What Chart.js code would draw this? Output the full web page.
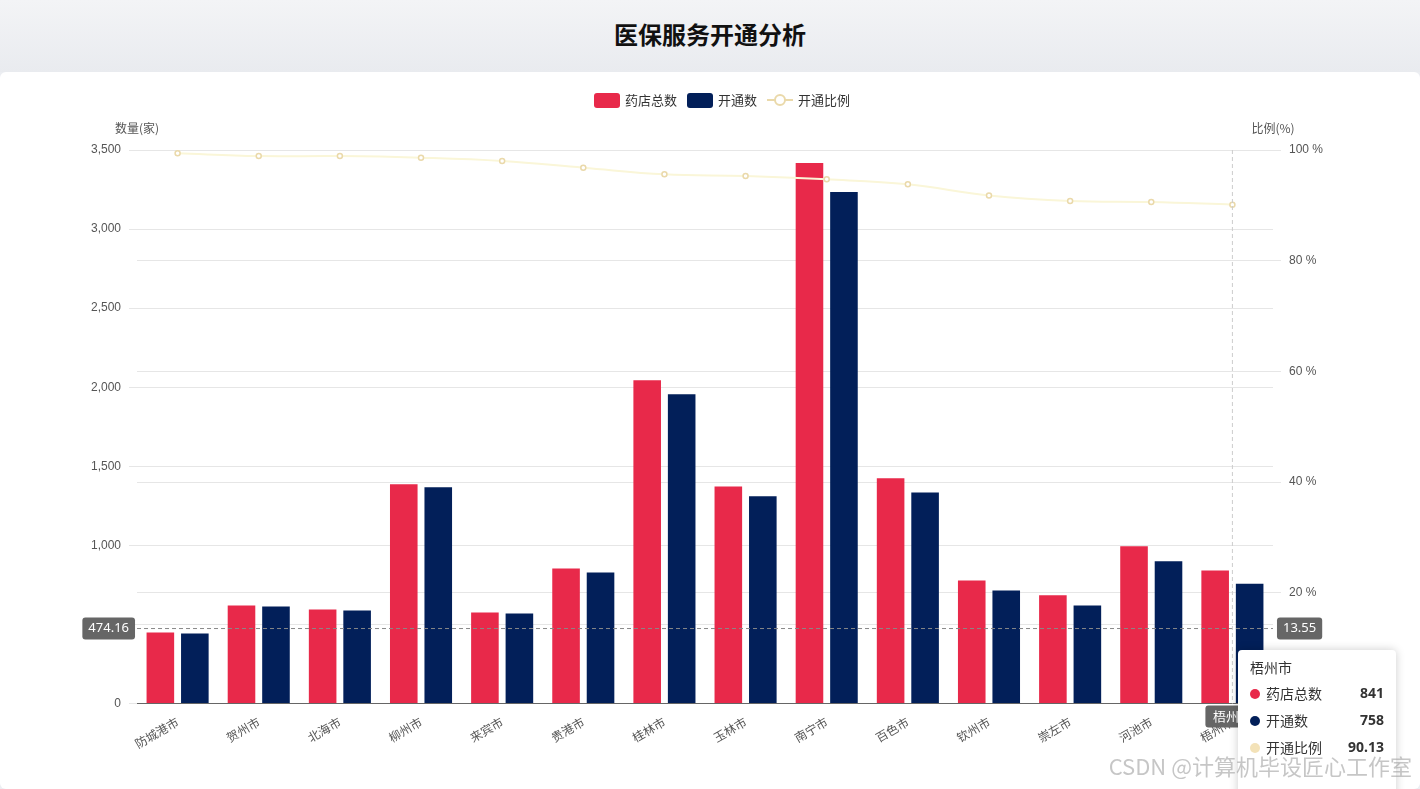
<!DOCTYPE html>
<html><head><meta charset="utf-8">
<script src="https://cdn.jsdelivr.net/npm/chart.js@4"></script>
<style>
body{margin:0;background:#eceef2;font-family:"Noto Sans CJK SC","Noto Sans",sans-serif;}
#hdr{height:72px;line-height:68px;text-align:center;font-size:24px;font-weight:bold;color:#111;background:linear-gradient(#f3f4f6,#e9ebef);}
#card{position:absolute;left:0;top:72px;width:1420px;height:717px;background:#fff;border-radius:6px;}
#wm{position:absolute;right:8px;bottom:8px;font-size:22px;color:rgba(160,160,160,0.6);}
</style></head><body>
<div id="hdr">医保服务开通分析</div>
<div id="card"><canvas id="c" width="1420" height="717"></canvas></div>
<div id="wm">CSDN @计算机毕设匠心工作室</div>
<script>
const categories=["防城港市","贺州市","北海市","柳州市","来宾市","贵港市","桂林市","玉林市","南宁市","百色市","钦州市","崇左市","河池市","梧州市"];
const totalStores=[449,620,595,1386,576,854,2044,1373,3418,1424,778,684,994,841];
const openStores=[443,614,589,1367,570,829,1956,1310,3234,1335,715,620,899,758];
const openRatio=[99.4,98.9,98.9,98.6,98.0,96.8,95.6,95.3,94.7,93.8,91.8,90.8,90.6,90.13];
const leftTicks=[0,500,1000,1500,2000,2500,3000,3500];
const rightTicks=[0,20,40,60,80,100];
const hoverIdx=13;

const overlay={id:'overlay',afterDraw(ch){
 const c=ch.ctx,a=ch.chartArea,x=ch.scales.x,y=ch.scales.y;
 c.save();
 c.font='13px "Noto Sans CJK SC"';c.textBaseline='middle';c.textAlign='left';
 let lx=594,ly=28;
 [['药店总数','#e8294a'],['开通数','#021f59']].forEach(r=>{c.fillStyle=r[1];c.beginPath();c.roundRect(lx,ly-7,26,15,3);c.fill();
  c.fillStyle='#333';c.fillText(r[0],lx+31,ly);lx+=31+c.measureText(r[0]).width+10;});
 c.strokeStyle='#ead9aa';c.lineWidth=2;c.beginPath();c.moveTo(lx,ly);c.lineTo(lx+26,ly);c.stroke();
 c.fillStyle='#fff';c.beginPath();c.arc(lx+13,ly,5,0,7);c.fill();c.stroke();
 c.fillStyle='#333';c.fillText('开通比例',lx+31,ly);
 c.font='12px "Noto Sans CJK SC"';c.fillStyle='#555';c.textAlign='center';
 c.fillText('数量(家)',137,56);c.fillText('比例(%)',1273,56);
 const px=x.getPixelForValue(hoverIdx),py=y.getPixelForValue(474.16);
 c.setLineDash([4,3]);c.strokeStyle='#888';c.lineWidth=1;
 c.beginPath();c.moveTo(a.left,py);c.lineTo(a.right,py);c.stroke();
 c.strokeStyle='#ccc';c.beginPath();c.moveTo(px,a.top);c.lineTo(px,a.bottom);c.stroke();c.setLineDash([]);
 function lab(t,cx,cy,al){c.font='13px "Noto Sans"';const w=c.measureText(t).width+12;const l=al==='r'?cx-w:cx;
  c.fillStyle='#666';c.beginPath();c.roundRect(l,cy-11,w,22,3);c.fill();c.fillStyle='#fff';c.textBaseline='middle';c.textAlign='left';c.fillText(t,l+6,cy);}
 lab('474.16',a.left-2,py,'r');lab('13.55',a.right+4,py,'l');
 c.font='13px "Noto Sans CJK SC"';c.fillStyle='#666';c.beginPath();c.roundRect(px-27,a.bottom+2,54,22,3);c.fill();
 c.fillStyle='#fff';c.textAlign='center';c.fillText('梧州市',px,a.bottom+13);
 const tx=1238,ty=578,tw=158,th=150;
 c.shadowColor='rgba(0,0,0,0.2)';c.shadowBlur=10;c.fillStyle='#fff';c.beginPath();c.roundRect(tx,ty,tw,th,4);c.fill();c.shadowBlur=0;
 c.textAlign='left';c.fillStyle='#333';c.font='14px "Noto Sans CJK SC"';c.fillText('梧州市',tx+12,ty+18);
 const rows=[['药店总数','841','#e8294a'],['开通数','758','#021f59'],['开通比例','90.13','#f3e2b8']];
 rows.forEach((r,i)=>{const yy=ty+44+i*27;c.fillStyle=r[2];c.beginPath();c.arc(tx+17,yy,5,0,7);c.fill();
  c.fillStyle='#333';c.font='14px "Noto Sans CJK SC"';c.textAlign='left';c.fillText(r[0],tx+28,yy);
  c.font='bold 14px "Noto Sans"';c.textAlign='right';c.fillText(r[1],tx+tw-12,yy);});
 c.restore();}};

new Chart(document.getElementById('c'),{
 data:{labels:categories,datasets:[
  {type:'line',label:'开通比例',data:openRatio,yAxisID:'y1',borderColor:'#faf6d8',borderWidth:2,tension:0.4,
   pointRadius:2.5,pointBorderColor:'#ead9aa',pointBackgroundColor:'#fff',pointBorderWidth:1.5,order:0},
  {type:'bar',label:'药店总数',data:totalStores,backgroundColor:'#e8294a',yAxisID:'y',barPercentage:0.8,categoryPercentage:0.85,order:1},
  {type:'bar',label:'开通数',data:openStores,backgroundColor:'#021f59',yAxisID:'y',barPercentage:0.8,categoryPercentage:0.85,order:1}]},
 options:{responsive:false,animation:false,events:[],
  layout:{padding:{left:83,right:89,top:78,bottom:35}},
  plugins:{tooltip:{enabled:false},legend:{display:false}},
  scales:{
   x:{grid:{display:false},border:{color:'#666'},ticks:{color:'#555',font:{family:'Noto Sans CJK SC',size:12},maxRotation:30,minRotation:30}},
   y:{position:'left',min:0,max:3500,afterBuildTicks(s){s.ticks=leftTicks.map(v=>({value:v}));},
    grid:{color:'#e6e6e6'},border:{display:false},ticks:{color:'#555',font:{size:12},padding:8,callback:v=>v.toLocaleString('en-US')}},
   y1:{position:'right',min:0,max:100,afterBuildTicks(s){s.ticks=rightTicks.map(v=>({value:v}));},
    grid:{color:'#e6e6e6'},border:{display:false},ticks:{color:'#555',font:{size:12},padding:8,callback:v=>v+' %'}}}},
 plugins:[overlay]});
</script></body></html>
